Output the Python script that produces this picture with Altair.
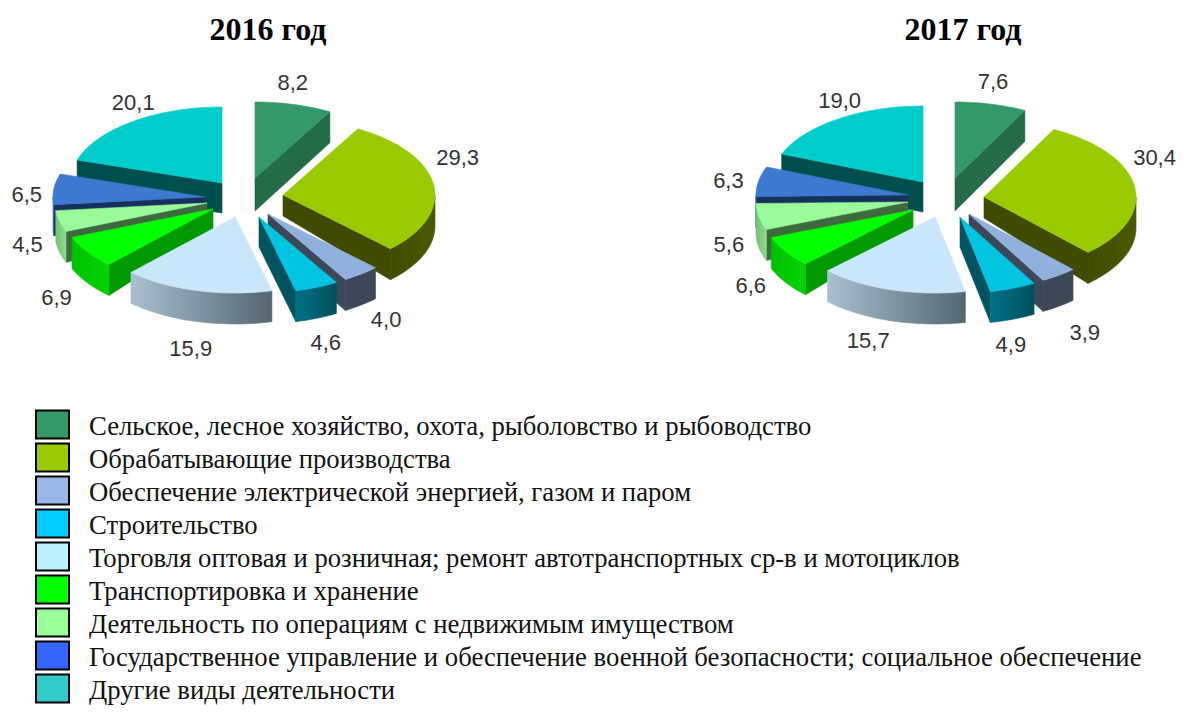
import math
import altair as alt
import pandas as pd

categories = [
    "Сельское, лесное хозяйство, охота, рыболовство и рыбоводство",
    "Обрабатывающие производства",
    "Обеспечение электрической энергией, газом и паром",
    "Строительство",
    "Торговля оптовая и розничная; ремонт автотранспортных ср-в и мотоциклов",
    "Транспортировка и хранение",
    "Деятельность по операциям с недвижимым имуществом",
    "Государственное управление и обеспечение военной безопасности; социальное обеспечение",
    "Другие виды деятельности",
]
shares_2016 = [8.2, 29.3, 4.0, 4.6, 15.9, 6.9, 4.5, 6.5, 20.1]
shares_2017 = [7.6, 30.4, 3.9, 4.9, 15.7, 6.6, 5.6, 6.3, 19.0]
labels_2016 = ["8,2", "29,3", "4,0", "4,6", "15,9", "6,9", "4,5", "6,5", "20,1"]
labels_2017 = ["7,6", "30,4", "3,9", "4,9", "15,7", "6,6", "5,6", "6,3", "19,0"]

legend_colors = ["#339966", "#99CC00", "#99B8E8", "#00CCFF", "#BBF0FF", "#00FF00", "#99FF99", "#3366FF", "#33CCCC"]
top_colors = ["#339966", "#99CC00", "#8FB1DC", "#00C4E0", "#C9E7FA", "#00FF00", "#99FB99", "#3C79D0", "#00CCCC"]
side_colors = ["#246B47", "#3F4C00", "#3C4858", "#00535F", "#7F929E", "#009900", "#3F6A3F", "#17305C", "#004F4F"]
rim_stops = [
    ("#246B47", "#246B47"), ("#4A5A00", "#3F4C00"), ("#3C4858", "#3C4858"), ("#007285", "#004F5C"),
    ("#A9C0D0", "#55666F"), ("#00D400", "#00C000"), ("#8BDC8B", "#77C077"), ("#2F5E9E", "#2F5E9E"), ("#004F4F", "#004F4F"),
]

# exploded-pie layout (pixels of the page)
RX, RY = 152, 76
DEPTH = 31
paint_order = [8, 0, 7, 6, 5, 1, 2, 3, 4]
tip_depth = [33, 21, 30, 30, 30, 20, 20, 20, 30]
tips_2016 = [(255, 178), (283, 195), (268, 214), (259, 217), (235, 217), (213, 209), (207, 203), (205, 197), (222, 183)]
tips_2017 = [(955, 178), (984, 197), (969, 214), (960, 217), (935, 217), (913, 210), (908, 202), (908, 195), (923, 182)]
nudge_2016 = [(-1, -22), (24, -27), (25, 46), (9, 56), (-6, 58), (-31, 46), (-32, 24), (-27, 6), (1, -19)]
nudge_2017 = [(2, -22), (20, -29), (26, 58), (-2, 57), (-23, 51), (-35, 34), (-30, 28), (-30, 0), (2, -18)]

X = alt.X("x:Q", axis=None, scale=alt.Scale(domain=[8, 1176]))
Y = alt.Y("y:Q", axis=None, scale=alt.Scale(domain=[408, 8]))


def rim(tip, deg, drop=0):
    t = math.radians(deg)
    return (tip[0] + RX * math.sin(t), tip[1] - RY * math.cos(t) + drop)


def arc(tip, a0, a1, drop=0):
    n = max(2, int(abs(a1 - a0) / 2) + 2)
    return [rim(tip, a0 + (a1 - a0) * i / (n - 1), drop) for i in range(n)]


def poly_layer(points, fill):
    pts = list(points) + [points[0]]
    df = pd.DataFrame({"x": [p[0] for p in pts], "y": [p[1] for p in pts], "i": range(len(pts))})
    return alt.Chart(df).mark_line(fill=fill, stroke=fill, strokeWidth=0.6, clip=False).encode(
        x=X, y=Y, order="i:Q"
    )


def pie_layers(shares, tips, labels, nudges):
    layers = []
    cum = [0]
    for s in shares:
        cum.append(cum[-1] + s)
    total = cum[-1]
    label_rows = []
    for k in paint_order:
        a0, a1 = cum[k] / total * 360, cum[k + 1] / total * 360
        tip = tips[k]
        mid = (a0 + a1) / 2
        mid_pt = rim(tip, mid)
        label_rows.append({"x": mid_pt[0] + nudges[k][0], "y": mid_pt[1] + nudges[k][1], "t": labels[k]})
        # radial walls that face the viewer
        for a in (a0, a1):
            e = rim(tip, a)
            dx, dy = e[0] - tip[0], e[1] - tip[1]
            nx, ny = -dy, dx
            if nx * (mid_pt[0] - tip[0]) + ny * (mid_pt[1] - tip[1]) < 0:
                nx, ny = -nx, -ny
            if ny < -1e-6:
                layers.append(poly_layer(
                    [tip, e, (e[0], e[1] + DEPTH), (tip[0], tip[1] + tip_depth[k])], side_colors[k]
                ))
        # outer wall, front half only
        b0, b1 = max(a0, 90), min(a1, 270)
        if b1 > b0:
            upper = arc(tip, b0, b1)
            lower = arc(tip, b0, b1, DEPTH)
            c0, c1 = rim_stops[k]
            # gradient runs along the screen from left to right
            left, right = (c1, c0) if k not in (4, 3) else (c0, c1)
            fill = alt.Gradient(
                gradient="linear", x1=0, x2=1, y1=0, y2=0,
                stops=[alt.GradientStop(color=left, offset=0), alt.GradientStop(color=right, offset=1)],
            )
            layers.append(poly_layer(upper + lower[::-1], fill))
        layers.append(poly_layer([tip] + arc(tip, a0, a1), top_colors[k]))
    text = alt.Chart(pd.DataFrame(label_rows)).mark_text(
        font="Liberation Sans", fontSize=22, color="#333333", baseline="middle", align="center"
    ).encode(x=X, y=Y, text="t:N")
    layers.append(text)
    return layers


titles = pd.DataFrame({"x": [268, 963], "y": [30, 30], "t": ["2016 год", "2017 год"]})
title_text = alt.Chart(titles).mark_text(
    font="Liberation Serif", fontSize=32, fontWeight="bold", color="black", baseline="middle"
).encode(x=X, y=Y, text="t:N")

pies = alt.layer(
    *pie_layers(shares_2016, tips_2016, labels_2016, nudge_2016),
    *pie_layers(shares_2017, tips_2017, labels_2017, nudge_2017),
    title_text,
).properties(width=1168, height=400)

legend_df = pd.DataFrame({"cat": categories, "col": legend_colors})
ROW = alt.Y("cat:N", sort=None, axis=None, scale=alt.Scale(paddingInner=0, paddingOuter=0))
swatches = alt.Chart(legend_df).mark_rect(stroke="black", strokeWidth=2, height=28).encode(
    y=ROW, x=alt.value(28), x2=alt.value(61), fill=alt.Fill("col:N", scale=None)
)
legend_text = alt.Chart(legend_df).mark_text(
    font="Liberation Serif", fontSize=26.7, color="#111111", align="left", baseline="middle", dy=2
).encode(y=ROW, x=alt.value(81), text="cat:N")
legend_view = alt.layer(swatches, legend_text).properties(width=1168, height=297)

chart = alt.vconcat(pies, legend_view, spacing=0, padding=0).configure_view(stroke=None)
chart.save("out.html", embed_options={"renderer": "svg", "actions": False})
